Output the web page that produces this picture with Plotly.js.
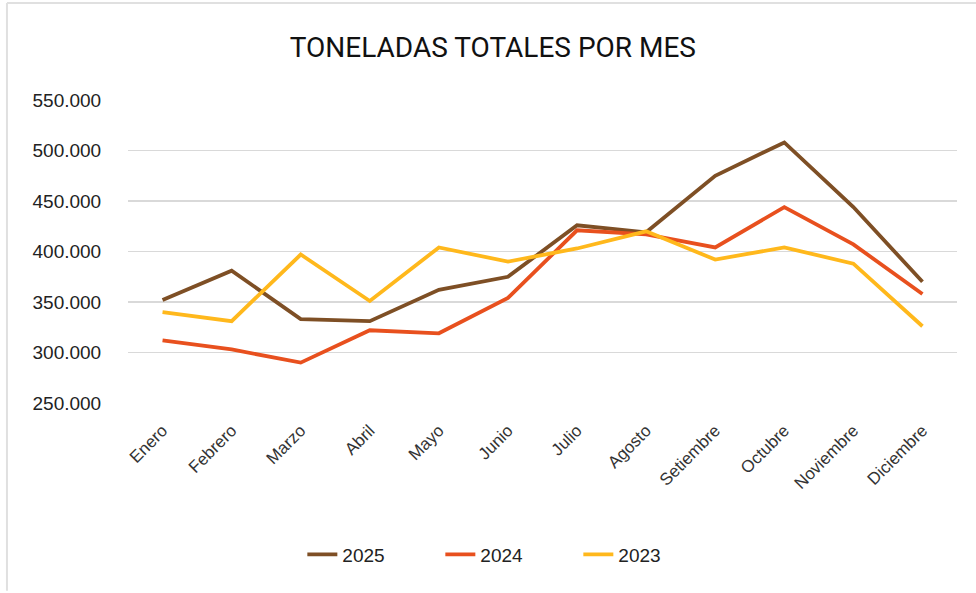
<!DOCTYPE html>
<html>
<head>
<meta charset="utf-8">
<script src="https://cdn.plot.ly/plotly-3.0.1.min.js"></script>
<style>html,body{margin:0;padding:0;background:#fff;}#chart{width:976px;height:593px;}</style>
</head>
<body>
<div id="chart"></div>
<script>
const months = ["Enero","Febrero","Marzo","Abril","Mayo","Junio","Julio","Agosto","Setiembre","Octubre","Noviembre","Diciembre"];
const y2025 = [352000, 381000, 333000, 331000, 362000, 375000, 426000, 419000, 475000, 508000, 444000, 370000];
const y2024 = [312000, 303000, 290000, 322000, 319000, 354000, 421000, 417000, 404000, 444000, 407000, 358000];
const y2023 = [340000, 331000, 397000, 351000, 404000, 390000, 403000, 420000, 392000, 404000, 388000, 326000];
const seriesNames = ["2025","2024","2023"];
const colors = ["#7E4F25","#E8501E","#FFB81C"];

const traces = [y2025, y2024, y2023].map((vals, i) => ({
  x: months, y: vals, name: seriesNames[i], type: 'scatter', mode: 'lines',
  line: {color: colors[i], width: 3.8}
}));

const layout = {
  width: 976, height: 593,
  margin: {l: 128, r: 19, t: 100, b: 190},
  paper_bgcolor: '#fff', plot_bgcolor: '#fff',
  separators: ',.',
  title: {text: 'TONELADAS TOTALES POR MES', x: 0.505, xanchor: 'center', y: 0.92, yanchor: 'middle',
          font: {family: '"Liberation Sans Narrow", Roboto, sans-serif', size: 28, color: '#111'}},
  font: {family: '"Liberation Sans", Arial, sans-serif', color: '#333'},
  xaxis: {type: 'category', range: [-0.5, 11.5], showgrid: false, zeroline: false, showline: false,
          tickangle: -45, ticks: 'outside', ticklen: 10, tickcolor: 'rgba(0,0,0,0)',
          tickfont: {family: '"Liberation Sans", Arial, sans-serif', size: 17, color: '#333'}},
  yaxis: {range: [250000, 550000], dtick: 50000, tickformat: ',.0f', showgrid: true, gridcolor: '#D9D9D9', gridwidth: 1.5,
          zeroline: false, showline: false, ticks: 'outside', ticklen: 22, tickcolor: 'rgba(0,0,0,0)',
          tickfont: {family: '"Liberation Sans", Arial, sans-serif', size: 19, color: '#222'}},
  legend: {orientation: 'h', x: 0.46, xanchor: 'center', y: -0.50, yanchor: 'middle', entrywidth: 93,
           font: {family: '"Liberation Sans", Arial, sans-serif', size: 19, color: '#222'}},
  showlegend: true,
  shapes: [
    {type: 'line', xref: 'paper', yref: 'paper', x0: -0.146, x1: -0.146, y0: -0.62, y1: 1.32, line: {color: '#E0E0E0', width: 2}},
    {type: 'line', xref: 'paper', yref: 'paper', x0: -0.146, x1: 1.03, y0: 1.32, y1: 1.32, line: {color: '#E0E0E0', width: 2}}
  ]
};
Plotly.newPlot('chart', traces, layout, {displayModeBar: false, staticPlot: true});
</script>
</body>
</html>
